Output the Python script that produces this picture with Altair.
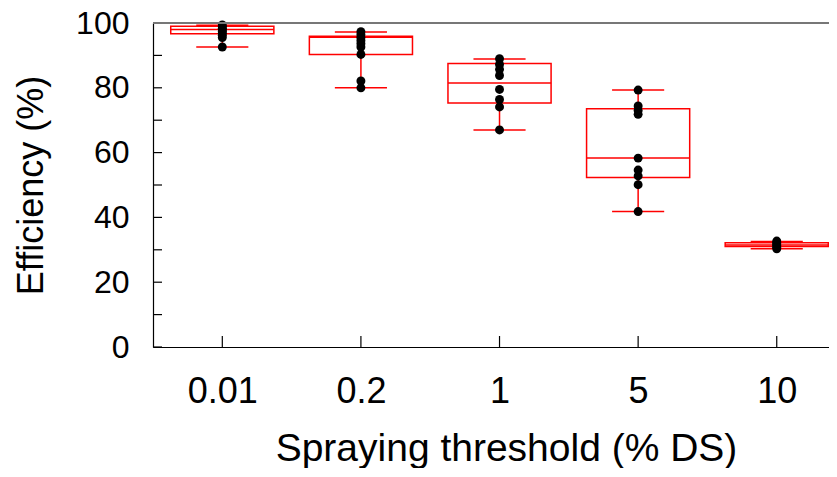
import json
import altair as alt
import pandas as pd

categories = ["0.01", "0.2", "1", "5", "10"]
positions = [1, 2, 3, 4, 5]

# box statistics
whisker_low = [92.6, 80.0, 67.0, 41.8, 30.3]
q1 = [96.7, 90.3, 75.3, 52.3, 31.0]
median = [98.0, 95.6, 81.5, 58.3, 31.5]
q3 = [99.0, 95.9, 87.5, 73.5, 32.2]
whisker_high = [99.3, 97.2, 88.9, 79.3, 32.6]

# individual observations
points_001 = [99.4, 98.9, 98.4, 97.9, 97.4, 96.8, 96.2, 95.5, 92.6]
points_02 = [97.3, 96.4, 95.5, 94.6, 93.6, 92.6, 90.3, 82.1, 80.0]
points_1 = [89.0, 87.2, 85.7, 83.8, 79.5, 76.4, 74.1, 67.0]
points_5 = [79.3, 74.4, 73.0, 71.8, 58.3, 54.6, 52.8, 50.1, 41.8]
points_10 = [32.7, 32.2, 31.8, 31.3, 30.8, 30.3]
all_points = [points_001, points_02, points_1, points_5, points_10]

y_ticks = [0, 10, 20, 30, 40, 50, 60, 70, 80, 90, 100]
y_labels = [0, 20, 40, 60, 80, 100]

W, H = 676, 324
FONT = "Liberation Sans"

stats = pd.DataFrame({
    "pos": positions, "cat": categories, "lo": whisker_low, "q1": q1,
    "med": median, "q3": q3, "hi": whisker_high,
})
pts = pd.DataFrame([
    {"pos": p, "value": v} for p, vals in zip(positions, all_points) for v in vals
])
ticks_df = pd.DataFrame({"t": y_ticks})

xscale = alt.Scale(domain=[0.5, 5.377], nice=False, zero=False)
yscale = alt.Scale(domain=[0, 100], nice=False)

label_expr = json.dumps(categories) + "[datum.value - 1]"

base = alt.Chart(stats).transform_calculate(
    xl="datum.pos - 0.372", xr="datum.pos + 0.372",
    cl="datum.pos - 0.188", cr="datum.pos + 0.188",
)

box = base.mark_rect(fillOpacity=0, stroke="red", strokeWidth=1.5).encode(
    x=alt.X("xl:Q", scale=xscale, title="Spraying threshold (% DS)",
            axis=alt.Axis(values=positions, labelExpr=label_expr, grid=False,
                          ticks=False, domainColor="black", domainWidth=1.2,
                          labelFontSize=36, labelPadding=27, titleFontSize=39,
                          titlePadding=20, titleX=353, labelColor="black",
                          titleColor="black", titleFontWeight="normal",
                          labelFont=FONT, titleFont=FONT)),
    x2="xr:Q",
    y=alt.Y("q1:Q", scale=yscale, title="Efficiency (%)",
            axis=alt.Axis(values=y_labels, grid=False, ticks=False,
                          domainColor="black", domainWidth=1.2,
                          labelFontSize=32, labelPadding=24, titleFontSize=36,
                          titlePadding=25, labelColor="black", titleColor="black",
                          titleFontWeight="normal", labelFont=FONT, titleFont=FONT)),
    y2="q3:Q",
)

med = base.mark_rule(color="red", strokeWidth=1.5).encode(
    x=alt.X("xl:Q", scale=xscale), x2="xr:Q", y=alt.Y("med:Q", scale=yscale))
wlow = base.mark_rule(color="red", strokeWidth=1.5).encode(
    x=alt.X("pos:Q", scale=xscale), y=alt.Y("lo:Q", scale=yscale), y2="q1:Q")
whigh = base.mark_rule(color="red", strokeWidth=1.5).encode(
    x=alt.X("pos:Q", scale=xscale), y=alt.Y("q3:Q", scale=yscale), y2="hi:Q")
cap_low = base.mark_rule(color="red", strokeWidth=1.5).encode(
    x=alt.X("cl:Q", scale=xscale), x2="cr:Q", y=alt.Y("lo:Q", scale=yscale))
cap_high = base.mark_rule(color="red", strokeWidth=1.5).encode(
    x=alt.X("cl:Q", scale=xscale), x2="cr:Q", y=alt.Y("hi:Q", scale=yscale))

dots = alt.Chart(pts).mark_circle(size=80, color="black", opacity=1).encode(
    x=alt.X("pos:Q", scale=xscale), y=alt.Y("value:Q", scale=yscale))

yticks = alt.Chart(ticks_df).mark_rule(color="black", strokeWidth=1.2).encode(
    x=alt.value(0), x2=alt.value(9), y=alt.Y("t:Q", scale=yscale))
xticks = alt.Chart(stats).mark_rule(color="black", strokeWidth=1.2).encode(
    x=alt.X("pos:Q", scale=xscale), y=alt.value(H), y2=alt.value(H - 11))
top = alt.Chart(stats).mark_rule(color="#777777", strokeWidth=1.5).encode(
    x=alt.value(0), x2=alt.value(W), y=alt.value(0))

chart = alt.layer(
    box, med, wlow, whigh, cap_low, cap_high, dots, yticks, xticks, top
).properties(
    width=W, height=H,
    autosize=alt.AutoSizeParams(type="none"),
    padding={"left": 145, "top": 15, "right": 0, "bottom": 121},
).configure_view(stroke=None).configure(background="white")

chart.save("out.html", embed_options={"renderer": "svg", "actions": False})
